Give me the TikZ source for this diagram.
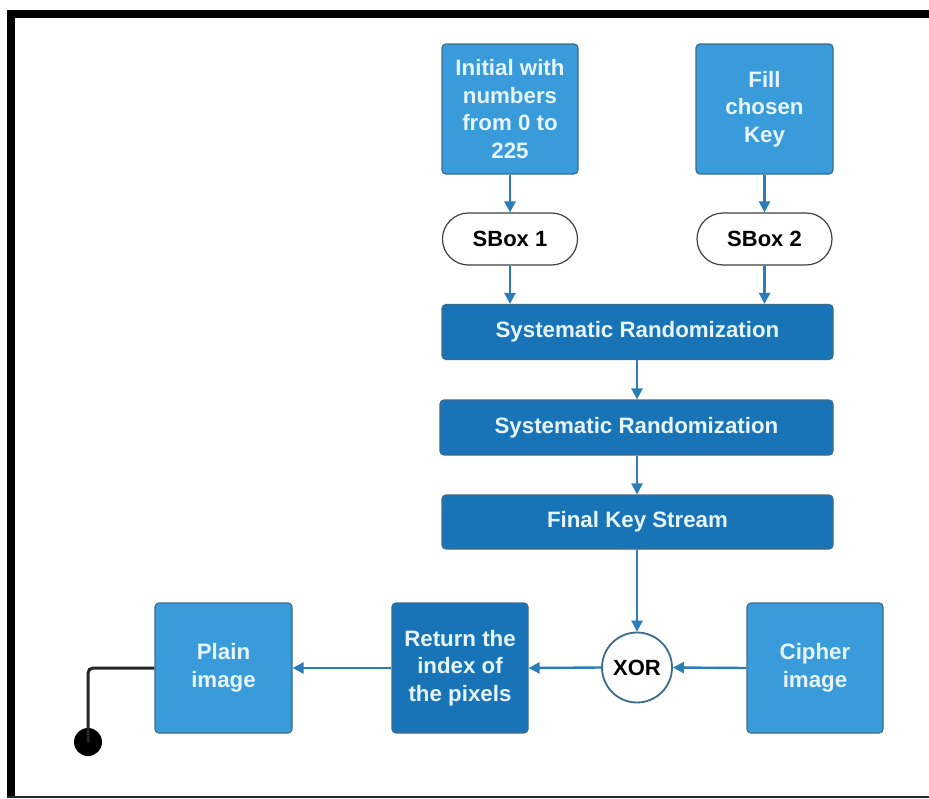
\documentclass[tikz,border=0pt]{standalone}
\usepackage{fontspec}
\setmainfont{Liberation Sans}
\usetikzlibrary{arrows.meta,shapes.misc}
\definecolor{lightbox}{HTML}{3A9BDA}
\definecolor{darkbox}{HTML}{1874B6}
\definecolor{boxedge}{HTML}{3C6C8C}
\definecolor{boxtext}{HTML}{E6F4FC}
\definecolor{flow}{HTML}{2A7DB8}
\begin{document}
\begin{tikzpicture}[x=1pt,y=-1pt,
  lbl/.style={font=\fontsize{22.3}{27.5}\selectfont\bfseries, text=boxtext, align=center},
  lightblk/.style={lbl, draw=boxedge, line width=1.2pt, fill=lightbox, rounded corners=4pt, inner sep=0pt},
  darkblk/.style={lbl, draw=boxedge, line width=1.2pt, fill=darkbox, rounded corners=4pt, inner sep=0pt},
  sboxnode/.style={rounded rectangle, draw=black!75, line width=1.2pt, fill=white, font=\fontsize{22}{24}\selectfont\bfseries, minimum width=135pt, minimum height=52pt, inner sep=0pt},
  xornode/.style={circle, draw=boxedge, line width=1.8pt, fill=white, font=\fontsize{22}{24}\selectfont\bfseries, minimum size=70pt, inner sep=0pt},
  flowarrow/.style={draw=flow, line width=2.4pt, -{Triangle[length=11pt,width=11pt]}}
]
% page and frame
\useasboundingbox (0,0) rectangle (929,798);
\fill[white] (0,0) rectangle (929,798);
\fill[black] (7,10) rectangle (929,18);
\fill[black] (7,10) rectangle (15,798);
\fill[black!85] (7,795.5) rectangle (929,798);

% top inputs
\node[lightblk, minimum width=136pt, minimum height=130pt] (init) at (510,109)
  {Initial with\\numbers\\from 0 to\\225};
\node[lightblk, minimum width=137pt, minimum height=130pt] (fill) at (764.5,109)
  {Fill\\chosen\\Key};

% substitution boxes
\node[sboxnode] (sb1) at (510,239) {SBox 1};
\node[sboxnode] (sb2) at (764.5,239) {SBox 2};

% key schedule chain
\node[darkblk, minimum width=391pt, minimum height=55pt] (sr1) at (637.5,332) {Systematic Randomization};
\node[darkblk, minimum width=393pt, minimum height=55pt] (sr2) at (636.5,427.5) {Systematic Randomization};
\node[darkblk, minimum width=391pt, minimum height=54pt] (fks) at (637.5,522) {Final Key Stream};

% bottom row
\node[xornode] (xor) at (637,667.5) {XOR};
\node[lightblk, minimum width=136pt, minimum height=130pt] (cipher) at (815,668) {Cipher\\image};
\node[darkblk, minimum width=136pt, minimum height=130pt] (ret) at (460,668) {Return the\\index of\\the pixels};
\node[lightblk, minimum width=137pt, minimum height=130pt] (plain) at (223.5,668) {Plain\\image};

% end point
\coordinate (bend) at (88,668);
\node[circle, fill=black, minimum size=28pt, inner sep=0pt] (endpt) at (88,742) {};

% connectors
\draw[flowarrow] (init.south) -- (sb1.north);
\draw[flowarrow] (fill.south) -- (sb2.north);
\draw[flowarrow] (sb1.south) -- (sb1.south |- sr1.north);
\draw[flowarrow] (sb2.south) -- (sb2.south |- sr1.north);
\draw[flowarrow] (sr1.south -| xor.north) -- (sr2.north -| xor.north);
\draw[flowarrow] (sr2.south -| xor.north) -- (fks.north -| xor.north);
\draw[flowarrow] (fks.south -| xor.north) -- (xor.north);
\draw[flowarrow] (cipher.west) -- (xor.east);
\draw[flowarrow] (xor.west) -- (ret.east);
\draw[flowarrow] (ret.west) -- (plain.east);
\draw[black!85, line width=3pt, rounded corners=5pt] (plain.west) -- (bend) -- (endpt.center);
\end{tikzpicture}
\end{document}
